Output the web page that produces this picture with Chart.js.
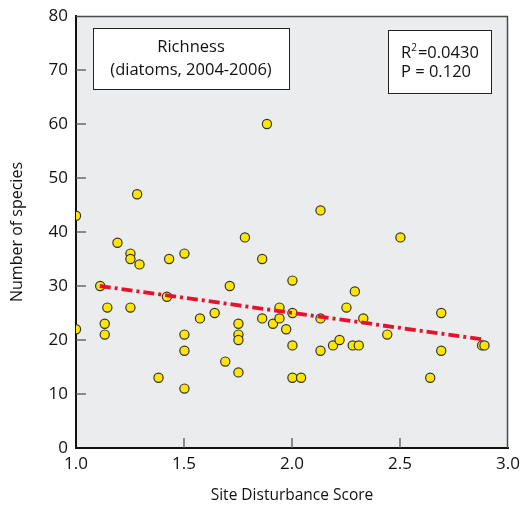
<!DOCTYPE html>
<html>
<head>
<meta charset="utf-8">
<script src="https://cdn.jsdelivr.net/npm/chart.js@4.4.1/dist/chart.umd.min.js"></script>
<style>
  html, body { margin: 0; padding: 0; background: #ffffff; }
  #wrap { position: relative; width: 522px; height: 507px; }
</style>
</head>
<body>
<div id="wrap"><canvas id="c" width="522" height="507"></canvas></div>
<script>
// ---- data ----
const disturbanceScore = [
  1.00, 1.00, 1.112, 1.145, 1.133, 1.133, 1.192, 1.252, 1.252, 1.252,
  1.283, 1.294, 1.382, 1.421, 1.431, 1.502, 1.502, 1.502, 1.502, 1.574,
  1.642, 1.691, 1.712, 1.752, 1.752, 1.752, 1.752, 1.782, 1.862, 1.862,
  1.884, 1.912, 1.942, 1.942, 1.973, 2.002, 2.002, 2.002, 2.002, 2.042,
  2.132, 2.132, 2.132, 2.19, 2.22, 2.252, 2.281, 2.291, 2.309, 2.33,
  2.441, 2.502, 2.64, 2.691, 2.691, 2.88, 2.891
];
const speciesCount = [
  43, 22, 30, 26, 23, 21, 38, 36, 35, 26,
  47, 34, 13, 28, 35, 36, 21, 18, 11, 24,
  25, 16, 30, 23, 21, 20, 14, 39, 35, 24,
  60, 23, 26, 24, 22, 31, 25, 19, 13, 13,
  44, 24, 18, 19, 20, 26, 19, 29, 19, 24,
  21, 39, 13, 25, 18, 19, 19
];
const trendX = [1.11, 2.885];
const trendY = [30.0, 20.1];
const xTickLabels = ['1.0', '1.5', '2.0', '2.5', '3.0'];
const yTickLabels = ['0', '10', '20', '30', '40', '50', '60', '70', '80'];
const titleLines = ['Richness', '(diatoms, 2004-2006)'];
const statLines = ['=0.0430', 'P = 0.120'];

const FONT = '"Open Sans", "DejaVu Sans", sans-serif';

const points = disturbanceScore.map((x, i) => ({ x: x, y: speciesCount[i] }));
const trend = trendX.map((x, i) => ({ x: x, y: trendY[i] }));

const framePlugin = {
  id: 'frame',
  beforeDraw(chart) {
    const { ctx, chartArea: a } = chart;
    ctx.save();
    ctx.fillStyle = '#ebeced';
    ctx.fillRect(a.left, a.top, a.right - a.left, a.bottom - a.top);
    ctx.restore();
  },
  beforeDatasetsDraw(chart) {
    const { ctx, chartArea: a, scales } = chart;
    ctx.save();
    ctx.strokeStyle = '#4a4a4a';
    ctx.lineWidth = 1.5;
    ctx.beginPath();
    ctx.moveTo(a.left, a.top + 0.5);
    ctx.lineTo(a.right - 0.5, a.top + 0.5);
    ctx.lineTo(a.right - 0.5, a.bottom);
    ctx.stroke();
    ctx.strokeStyle = '#555';
    ctx.lineWidth = 1.3;
    scales.x.ticks.forEach((t, i) => {
      const px = scales.x.getPixelForTick(i);
      if (Math.abs(px - a.left) < 3 || Math.abs(px - a.right) < 3) return;
      ctx.beginPath();
      ctx.moveTo(px, a.bottom);
      ctx.lineTo(px, a.bottom - 10);
      ctx.stroke();
    });
    scales.y.ticks.forEach((t, i) => {
      const py = scales.y.getPixelForTick(i);
      if (Math.abs(py - a.top) < 3 || Math.abs(py - a.bottom) < 3) return;
      ctx.beginPath();
      ctx.moveTo(a.left, py);
      ctx.lineTo(a.left + 10, py);
      ctx.stroke();
    });
    ctx.restore();
  },
  afterDraw(chart) {
    const { ctx } = chart;
    ctx.save();
    ctx.fillStyle = '#ffffff';
    ctx.strokeStyle = '#222';
    ctx.lineWidth = 1;
    ctx.fillRect(93, 28, 196, 61);
    ctx.strokeRect(93.5, 28.5, 196, 61);
    ctx.fillStyle = '#111';
    ctx.font = '16.5px ' + FONT;
    ctx.textAlign = 'center';
    ctx.textBaseline = 'middle';
    ctx.fillText(titleLines[0], 191, 47);
    ctx.fillText(titleLines[1], 191, 70);
    ctx.fillStyle = '#ffffff';
    ctx.fillRect(388, 30, 103, 63);
    ctx.strokeRect(388.5, 30.5, 103, 63);
    ctx.fillStyle = '#111';
    ctx.textAlign = 'left';
    ctx.font = '16.5px ' + FONT;
    ctx.fillText('R', 401, 53);
    const rw = ctx.measureText('R').width;
    ctx.font = '10px ' + FONT;
    ctx.fillText('2', 401 + rw, 48);
    const sw = ctx.measureText('2').width;
    ctx.font = '16.5px ' + FONT;
    ctx.fillText(statLines[0], 401 + rw + sw + 1, 53);
    ctx.fillText(statLines[1], 401, 72);
    ctx.restore();
  }
};

new Chart(document.getElementById('c'), {
  type: 'scatter',
  data: {
    datasets: [
      {
        type: 'line',
        data: trend,
        order: 0,
        borderColor: '#e8112d',
        borderWidth: 3.8,
        borderDash: [11, 4, 3, 4],
        pointRadius: 0,
        fill: false,
        tension: 0
      },
      {
        data: points,
        order: 1,
        backgroundColor: '#ffe600',
        borderColor: '#333333',
        borderWidth: 1.2,
        pointRadius: 4.6,
        pointHoverRadius: 4.6
      }
    ]
  },
  options: {
    responsive: false,
    animation: false,
    devicePixelRatio: 1,
    layout: { padding: { top: 16, right: 14, left: 0, bottom: 0 } },
    plugins: { legend: { display: false }, tooltip: { enabled: false } },
    scales: {
      x: {
        type: 'linear',
        min: 1, max: 3,
        afterFit(s) { s.height = 59; s.paddingLeft = 0; s.paddingRight = 0; },
        afterBuildTicks(s) { s.ticks = xTickLabels.map(l => ({ value: parseFloat(l) })); },
        ticks: {
          autoSkip: false,
          maxRotation: 0,
          padding: 6,
          color: '#111',
          font: { family: FONT, size: 17 },
          callback: (v, i) => xTickLabels[i]
        },
        grid: { display: false, drawTicks: false },
        border: { display: true, color: '#111', width: 2 },
        title: {
          display: true,
          text: 'Site Disturbance Score',
          color: '#111',
          font: { family: FONT, size: 15.5 },
          padding: { top: 0, bottom: 2 }
        }
      },
      y: {
        type: 'linear',
        min: 0, max: 80,
        afterFit(s) { s.width = 76; s.paddingTop = 0; s.paddingBottom = 0; },
        afterBuildTicks(s) { s.ticks = yTickLabels.map(l => ({ value: parseFloat(l) })); },
        ticks: {
          autoSkip: false,
          padding: 8,
          color: '#111',
          font: { family: FONT, size: 17 },
          callback: (v, i) => yTickLabels[i]
        },
        grid: { display: false, drawTicks: false },
        border: { display: true, color: '#111', width: 2 },
        title: {
          display: true,
          text: 'Number of species',
          color: '#111',
          font: { family: FONT, size: 16 },
          padding: { top: 8, bottom: 0 }
        }
      }
    }
  },
  plugins: [framePlugin]
});
</script>
</body>
</html>
